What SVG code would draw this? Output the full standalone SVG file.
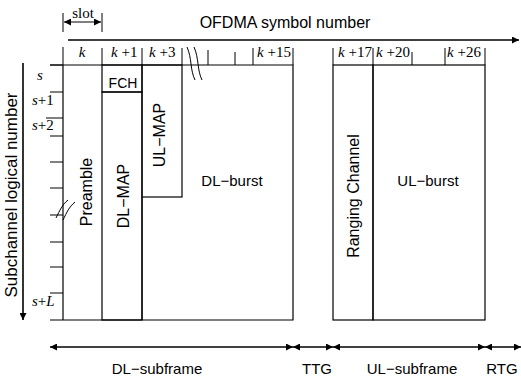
<svg xmlns="http://www.w3.org/2000/svg" width="521" height="380" viewBox="0 0 521 380">
<defs>
<marker id="ah" viewBox="0 0 10 10" refX="10" refY="5" markerWidth="7" markerHeight="7" markerUnits="userSpaceOnUse" orient="auto-start-reverse">
<path d="M0,0 L10,5 L0,10 z" fill="#000"/>
</marker>
<style>
.ln{stroke:#000;stroke-width:1.2;fill:none}
.thin{stroke:#000;stroke-width:1;fill:none}
.ar{stroke:#000;stroke-width:1.4;fill:none;marker-start:url(#ah);marker-end:url(#ah)}
.sans{font-family:"Liberation Sans",Arial,sans-serif;fill:#000}
.ser{font-family:"Liberation Serif","Times New Roman",serif;font-size:15px;fill:#000}
.it{font-style:italic}
</style>
</defs>
<rect width="521" height="380" fill="#fff"/>

<!-- axes -->
<g id="axes">
<line class="thin" x1="63" y1="13" x2="63" y2="32"/>
<line class="thin" x1="102" y1="13" x2="102" y2="32"/>
<line class="ar" x1="64" y1="22" x2="101" y2="22" style="stroke-width:1"/>
<text class="ser" x="83" y="18" text-anchor="middle" font-size="13">slot</text>
<text class="sans" x="285" y="28" text-anchor="middle" font-size="16">OFDMA symbol number</text>
<line class="ln" x1="68" y1="40" x2="519" y2="40" style="stroke-width:1.6" marker-end="url(#ah)"/>
<line class="ln" x1="23" y1="63" x2="23" y2="320" style="stroke-width:1.6" marker-end="url(#ah)"/>
<text class="sans" transform="translate(17,195) rotate(-90)" text-anchor="middle" font-size="17">Subchannel logical number</text>
</g>

<!-- header ticks and labels -->
<g id="header">
<line class="thin" x1="63" y1="47" x2="63" y2="65"/>
<line class="thin" x1="102" y1="48" x2="102" y2="65"/>
<line class="thin" x1="142" y1="48" x2="142" y2="65"/>
<line class="thin" x1="182" y1="48" x2="182" y2="65"/>
<line class="thin" x1="208" y1="50" x2="208" y2="65"/>
<line class="thin" x1="235" y1="52" x2="235" y2="65"/>
<line class="thin" x1="253" y1="48" x2="253" y2="65"/>
<line class="thin" x1="293" y1="48" x2="293" y2="65"/>
<line class="thin" x1="333" y1="48" x2="333" y2="65"/>
<line class="thin" x1="373" y1="48" x2="373" y2="65"/>
<line class="thin" x1="412" y1="52" x2="412" y2="65"/>
<line class="thin" x1="445" y1="48" x2="445" y2="65"/>
<line class="thin" x1="485" y1="48" x2="485" y2="65"/>
<path class="thin" d="M187,47 C192,58 190,70 195,80"/>
<path class="thin" d="M194,47 C199,58 197,70 202,80"/>
<text class="ser it" x="82" y="57" text-anchor="middle">k</text>
<text class="ser" x="111" y="57"><tspan class="it">k</tspan> +1</text>
<text class="ser" x="149" y="57"><tspan class="it">k</tspan> +3</text>
<text class="ser" x="257" y="57"><tspan class="it">k</tspan> +15</text>
<text class="ser" x="338" y="57"><tspan class="it">k</tspan> +17</text>
<text class="ser" x="376" y="57"><tspan class="it">k</tspan> +20</text>
<text class="ser" x="447" y="57"><tspan class="it">k</tspan> +26</text>
</g>

<!-- row ticks -->
<g id="rows">
<line class="thin" x1="50" y1="65" x2="63" y2="65"/>
<line class="thin" x1="50" y1="92" x2="63" y2="92"/>
<line class="thin" x1="46" y1="118" x2="63" y2="118"/>
<line class="thin" x1="50" y1="136" x2="63" y2="136"/>
<line class="thin" x1="50" y1="162" x2="63" y2="162"/>
<line class="thin" x1="50" y1="188" x2="63" y2="188"/>
<line class="thin" x1="50" y1="215" x2="63" y2="215"/>
<line class="thin" x1="50" y1="242" x2="63" y2="242"/>
<line class="thin" x1="50" y1="267" x2="63" y2="267"/>
<line class="thin" x1="50" y1="293" x2="63" y2="293"/>
<path class="thin" d="M56,218 C60,210 62,205 68,200"/>
<path class="thin" d="M63,220 C67,212 69,207 75,202"/>
<text class="ser it" x="40" y="80" text-anchor="middle">s</text>
<text class="ser" x="32" y="105"><tspan class="it">s</tspan>+1</text>
<text class="ser" x="32" y="130"><tspan class="it">s</tspan>+2</text>
<text class="ser" x="32" y="306"><tspan class="it">s</tspan>+<tspan class="it">L</tspan></text>
</g>

<!-- DL subframe -->
<g id="preamble">
<line class="ln" x1="63" y1="65" x2="63" y2="320"/>
<text class="sans" transform="translate(92,192) rotate(-90)" text-anchor="middle" font-size="16">Preamble</text>
</g>
<g id="fch">
<rect class="ln" x="102" y="65" width="40" height="27"/>
<text class="sans" x="123" y="88" text-anchor="middle" font-size="14">FCH</text>
</g>
<g id="dl-map">
<rect class="ln" x="102" y="92" width="40" height="228"/>
<text class="sans" transform="translate(129,196) rotate(-90)" text-anchor="middle" font-size="16">DL−MAP</text>
</g>
<g id="ul-map">
<rect class="ln" x="142" y="65" width="40" height="132"/>
<text class="sans" transform="translate(165,135) rotate(-90)" text-anchor="middle" font-size="16">UL−MAP</text>
</g>
<g id="dl-burst">
<path class="ln" d="M50,65 H293 V320 H50"/>
<line class="ln" x1="142" y1="197" x2="142" y2="320"/>
<text class="sans" x="232" y="186" text-anchor="middle" font-size="15">DL−burst</text>
</g>

<!-- UL subframe -->
<g id="ranging">
<rect class="ln" x="333" y="65" width="40" height="255"/>
<text class="sans" transform="translate(359,196) rotate(-90)" text-anchor="middle" font-size="16">Ranging Channel</text>
</g>
<g id="ul-burst">
<rect class="ln" x="373" y="65" width="112" height="255"/>
<text class="sans" x="428" y="186" text-anchor="middle" font-size="15">UL−burst</text>
</g>

<!-- connectors: bottom spans -->
<g id="connectors">
<line class="ar" x1="50" y1="347" x2="293" y2="347"/>
<line class="ar" x1="293" y1="347" x2="333" y2="347"/>
<line class="ar" x1="333" y1="347" x2="485" y2="347"/>
<line class="ar" x1="485" y1="347" x2="521" y2="347"/>
<text class="sans" x="157" y="374" text-anchor="middle" font-size="15">DL−subframe</text>
<text class="sans" x="317" y="374" text-anchor="middle" font-size="15">TTG</text>
<text class="sans" x="412" y="374" text-anchor="middle" font-size="15">UL−subframe</text>
<text class="sans" x="502" y="374" text-anchor="middle" font-size="15">RTG</text>
</g>
</svg>
